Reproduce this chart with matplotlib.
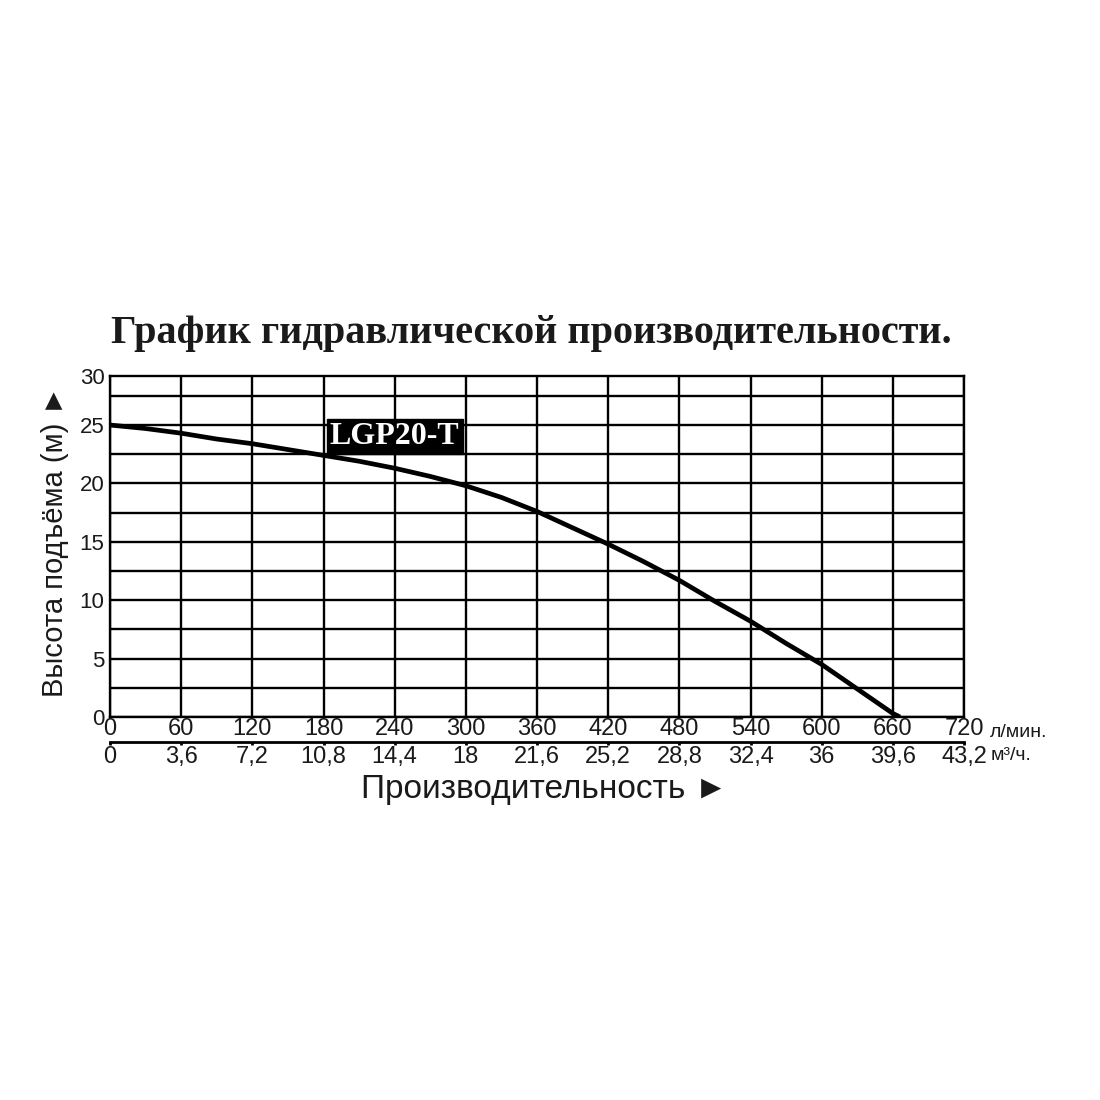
import matplotlib.pyplot as plt

# data
flow_lmin = [0, 30, 60, 90, 120, 150, 180, 210, 240, 270, 300, 330, 360,
             390, 420, 450, 480, 510, 540, 570, 600, 630, 660, 666]
head_m = [25.0, 24.7, 24.3, 23.8, 23.4, 22.9, 22.4, 21.9, 21.3, 20.6, 19.8, 18.8, 17.6,
          16.2, 14.8, 13.3, 11.7, 9.9, 8.2, 6.3, 4.5, 2.4, 0.3, 0.0]

x_ticks = [0, 60, 120, 180, 240, 300, 360, 420, 480, 540, 600, 660, 720]
m3h_labels = ['0', '3,6', '7,2', '10,8', '14,4', '18', '21,6', '25,2',
              '28,8', '32,4', '36', '39,6', '43,2']
y_grid = [0, 2.5, 5, 7.5, 10, 12.5, 15, 17.5, 20, 22.5, 25, 27.5]
y_ticks = [0, 5, 10, 15, 20, 25]
y_top = 29.2   # top row of the grid is shorter in the original, labelled 30

serif = 'Liberation Serif'
sans = 'Liberation Sans'
ink = '#1a1a1a'

fig = plt.figure(figsize=(11, 11), dpi=100)
ax = fig.add_axes([0.1, 0.3482, 0.7764, 0.3100])

ax.set_xlim(0, 720)
ax.set_ylim(0, y_top)

for v in x_ticks:
    ax.axvline(v, color='black', lw=1.7, zorder=1)
for v in y_grid:
    ax.axhline(v, color='black', lw=1.7, zorder=1)
for s in ax.spines.values():
    s.set_linewidth(1.7)

ax.plot(flow_lmin, head_m, color='black', lw=3.4, zorder=3, solid_capstyle='butt')

ax.set_yticks(y_ticks + [y_top], labels=[str(v) for v in y_ticks] + ['30'])
ax.set_xticks(x_ticks, labels=[str(v) for v in x_ticks])
ax.tick_params(axis='y', length=0, pad=4, labelsize=16, labelcolor=ink)
ax.tick_params(axis='x', length=0, pad=1, labelsize=17, labelcolor=ink)
for t in ax.get_xticklabels() + ax.get_yticklabels():
    t.set_family(sans)

# second scale (m3/h) below
sec = ax.secondary_xaxis(-0.073, functions=(lambda x: x, lambda x: x))
sec.set_xticks(x_ticks, labels=m3h_labels)
sec.spines['bottom'].set_linewidth(2)
sec.tick_params(axis='x', length=2, width=2, pad=1, labelsize=17, labelcolor=ink)
for t in sec.get_xticklabels():
    t.set_family(sans)

ax.text(742, -1.3, 'л/мин.', fontsize=14, family=sans, color=ink,
        ha='left', va='center', clip_on=False)
ax.text(742, -3.3, 'м³/ч.', fontsize=14, family=sans, color=ink,
        ha='left', va='center', clip_on=False)

ax.text(240, 24.0, 'LGP20-T', fontsize=23, family=serif, fontweight='bold',
        color='white', ha='center', va='center', zorder=4,
        bbox=dict(boxstyle='square,pad=0.1', fc='black', ec='black'))

fig.text(0.4827, 0.697, 'График гидравлической производительности.', fontsize=29,
         family=serif, fontweight='bold', color=ink, ha='center', va='center')
fig.text(0.05, 0.508, 'Высота подъёма (м) ►', fontsize=21, family=['Liberation Sans', 'DejaVu Sans'],
         color=ink, rotation=90, ha='center', va='center')
fig.text(0.495, 0.2745, 'Производительность ►', fontsize=24, family=['Liberation Sans', 'DejaVu Sans'],
         color=ink, ha='center', va='baseline')

fig.savefig('out.png', dpi=100, facecolor='white')
